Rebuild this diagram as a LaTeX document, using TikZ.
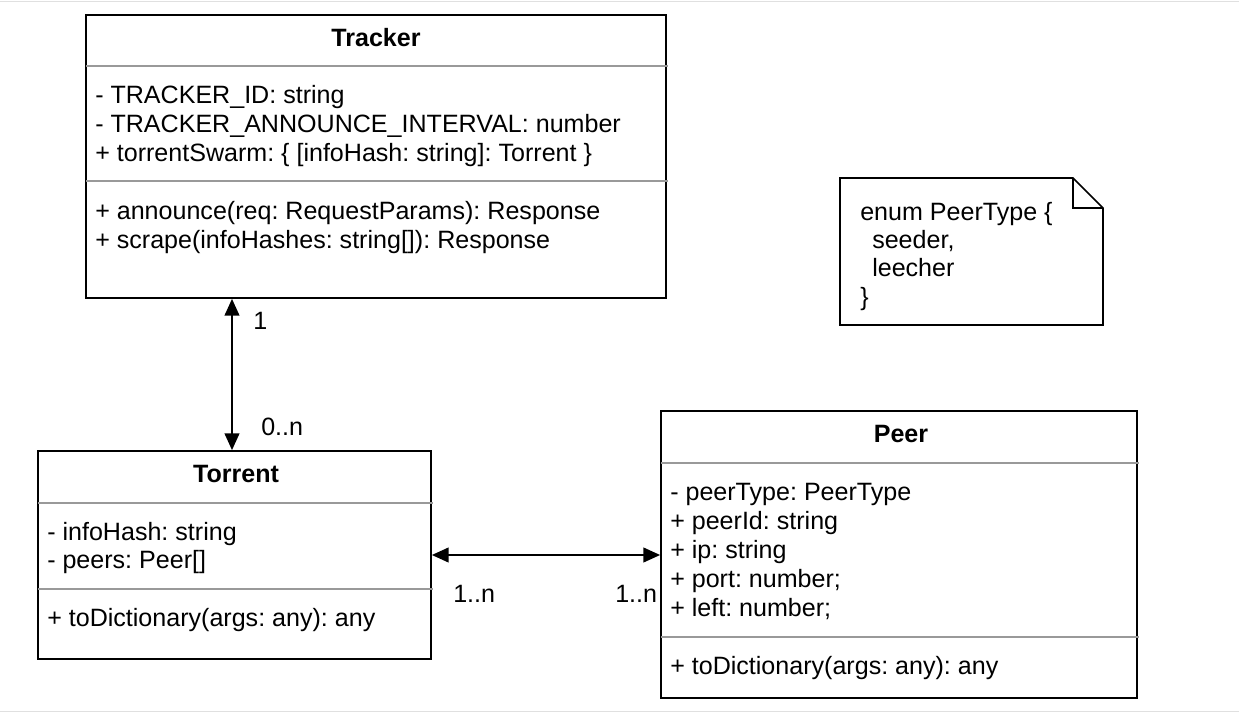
\documentclass[tikz,border=0pt]{standalone}
\usepackage{fontspec}
\setmainfont{Liberation Sans}
\frenchspacing
\usetikzlibrary{fit,arrows.meta}
\tikzset{
  box/.style={draw=black, line width=1.3pt, inner sep=0pt, fill=white},
  sep/.style={draw=black!40, line width=1.3pt},
  txt/.style={anchor=base west, inner sep=0pt, font=\fontsize{18.8}{22}\selectfont\frenchspacing},
  ttl/.style={anchor=base, inner sep=0pt, font=\fontsize{18.8}{22}\selectfont\bfseries},
  assoc/.style={line width=1.3pt, {Triangle[length=12.5pt,width=11pt]}-{Triangle[length=12.5pt,width=11pt]}},
  frame/.style={draw=black!12, line width=1.2pt}
}
\begin{document}
\begin{tikzpicture}[x=0.75pt,y=-0.75pt]
\useasboundingbox (0,0) rectangle (1239,713);
\draw[frame] (0,1.5) -- (1239,1.5);
\draw[frame] (0,711.5) -- (1239,711.5);

% Tracker
\node[box, fit={(86,15) (666,298)}] (tracker) {};
\node[ttl] (trackerT) at (376,46.5) {Tracker};
\draw[sep] (86,66) -- (668,66);
\node[txt] (tr1) at (95,103.5) {- TRACKER\_ID: string};
\node[txt] (tr2) at (95,132.5) {- TRACKER\_ANNOUNCE\_INTERVAL: number};
\node[txt] (tr3) at (95,161.5) {+ torrentSwarm: \{ [infoHash: string]: Torrent \}};
\draw[sep] (86,181) -- (668,181);
\node[txt] (tr4) at (95,219.5) {+ announce(req: RequestParams): Response};
\node[txt] (tr5) at (95,248.5) {+ scrape(infoHashes: string[]): Response};

% Note
\draw[box] (840,178) -- (1073,178) -- (1103,208) -- (1103,325) -- (840,325) -- cycle;
\draw[line width=1.3pt] (1073,178) -- (1073,208) -- (1103,208);
\node[txt] (n1) at (860,220.5) {enum PeerType \{};
\node[txt] (n2) at (860,248.5) {\hspace*{9pt}seeder,};
\node[txt] (n3) at (860,276.5) {\hspace*{9pt}leecher};
\node[txt] (n4) at (860,305) {\}};

% Torrent
\node[box, fit={(38,451) (431,659)}] (torrent) {};
\node[ttl] (torrentT) at (236,482.5) {Torrent};
\draw[sep] (38,503) -- (433,503);
\node[txt] (to1) at (47,540.5) {- infoHash: string};
\node[txt] (to2) at (47,568.5) {- peers: Peer[]};
\draw[sep] (38,589) -- (433,589);
\node[txt] (to3) at (47,626.5) {+ toDictionary(args: any): any};

% Peer
\node[box, fit={(661,411) (1137,698)}] (peer) {};
\node[ttl] (peerT) at (901,442.5) {Peer};
\draw[sep] (661,463) -- (1139,463);
\node[txt] (p1) at (670,500.5) {- peerType: PeerType};
\node[txt] (p2) at (670,529.5) {+ peerId: string};
\node[txt] (p3) at (670,558.5) {+ ip: string};
\node[txt] (p4) at (670,587.5) {+ port: number;};
\node[txt] (p5) at (670,616.5) {+ left: number;};
\draw[sep] (661,637) -- (1139,637);
\node[txt] (p6) at (670,674.5) {+ toDictionary(args: any): any};

% Associations
\coordinate (vx) at (232,0);
\coordinate (hy) at (0,555);
\draw[assoc] (tracker.south -| vx) -- (torrent.north -| vx);
\draw[assoc] (torrent.east |- hy) -- (peer.west |- hy);
\node[txt] (l1) at (253,329) {1};
\node[txt] (l2) at (261,435) {0..n};
\node[txt] (l3) at (453,602) {1..n};
\node[txt] (l4) at (615,602) {1..n};
\end{tikzpicture}
\end{document}
